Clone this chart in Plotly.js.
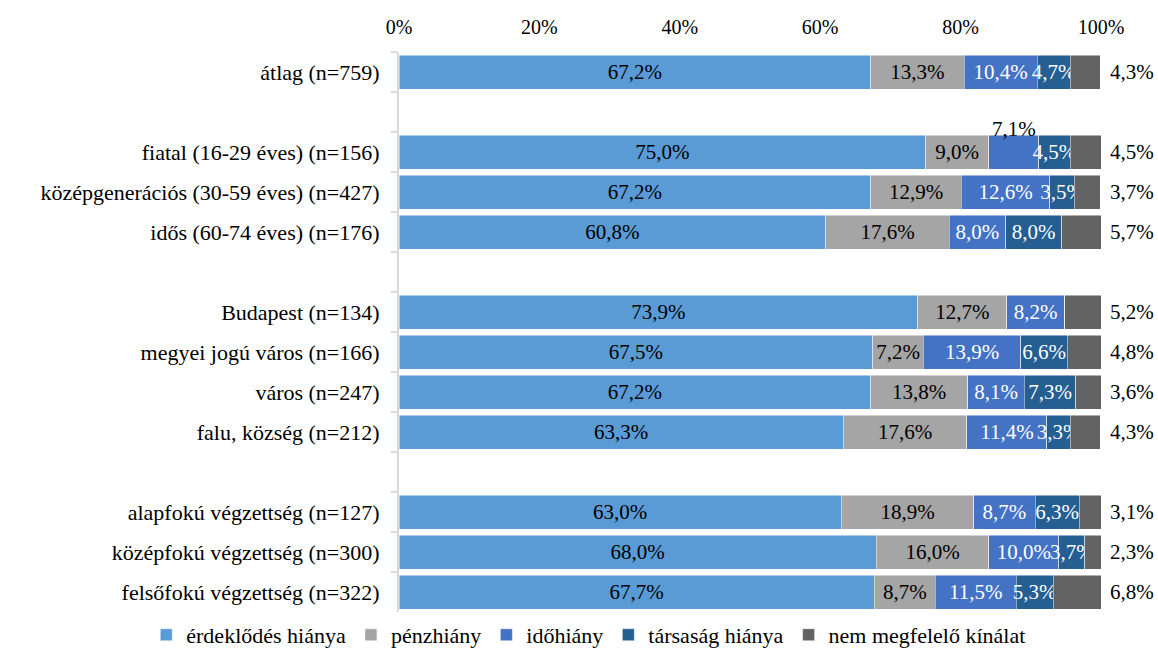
<!DOCTYPE html>
<html>
<head>
<meta charset="utf-8">
<script src="https://cdn.plot.ly/plotly-3.0.1.min.js"></script>
<style>html,body{margin:0;padding:0;background:#fff;}#chart{width:1158px;height:650px;}</style>
</head>
<body>
<div id="chart"></div>
<script>
const categories = ['átlag (n=759)', ' ', 'fiatal (16-29 éves) (n=156)', 'középgenerációs (30-59 éves) (n=427)', 'idős (60-74 éves) (n=176)', '  ', 'Budapest (n=134)', 'megyei jogú város (n=166)', 'város (n=247)', 'falu, község (n=212)', '   ', 'alapfokú végzettség (n=127)', 'középfokú végzettség (n=300)', 'felsőfokú végzettség (n=322)'];
const seriesNames = ['érdeklődés hiánya', 'pénzhiány', 'időhiány', 'társaság hiánya', 'nem megfelelő kínálat'];
const erdeklodesHianya = [67.2, null, 75.0, 67.2, 60.8, null, 73.9, 67.5, 67.2, 63.3, null, 63.0, 68.0, 67.7];
const penzhiany        = [13.3, null, 9.0, 12.9, 17.6, null, 12.7, 7.2, 13.8, 17.6, null, 18.9, 16.0, 8.7];
const idohiany         = [10.4, null, 7.1, 12.6, 8.0, null, 8.2, 13.9, 8.1, 11.4, null, 8.7, 10.0, 11.5];
const tarsasagHianya   = [4.7, null, 4.5, 3.5, 8.0, null, 0, 6.6, 7.3, 3.3, null, 6.3, 3.7, 5.3];
const nemMegfelelo     = [4.3, null, 4.5, 3.7, 5.7, null, 5.2, 4.8, 3.6, 4.3, null, 3.1, 2.3, 6.8];
const tickVals = [0, 20, 40, 60, 80, 100];
const tickText = ['0%', '20%', '40%', '60%', '80%', '100%'];

const colors = ['#5B9BD5', '#A5A5A5', '#4472C4', '#255E91', '#636363'];
const textColors = ['#000000', '#000000', '#ffffff', '#ffffff', '#000000'];
const FONT = 'Liberation Serif';
const FS = 21;
const fmt = v => (v === null || v === 0) ? '' : v.toFixed(1).replace('.', ',') + '%';

const seriesValues = [erdeklodesHianya, penzhiany, idohiany, tarsasagHianya, nemMegfelelo];
const traces = seriesValues.map((vals, i) => {
  const txt = vals.map(fmt);
  if (i === 2) txt[2] = ''; // fiatal időhiány label drawn above the bar
  return {
    type: 'bar', orientation: 'h', name: seriesNames[i],
    y: categories, x: vals,
    text: i === 4 ? undefined : txt,
    textposition: i === 4 ? 'none' : 'inside',
    insidetextanchor: 'middle', textangle: 0, constraintext: 'none',
    textfont: {family: FONT, size: FS, color: textColors[i]},
    marker: {color: colors[i], line: {color: 'rgba(255,255,255,0.8)', width: 0.6}},
    width: 0.85, hoverinfo: 'skip'
  };
});

const annotations = [];
categories.forEach((c, k) => {
  if (nemMegfelelo[k] !== null) {
    annotations.push({x: 100, y: c, xref: 'x', yref: 'y', text: fmt(nemMegfelelo[k]), showarrow: false,
      xanchor: 'left', xshift: 7, font: {family: FONT, size: FS, color: '#000'}});
  }
});
// fiatal: időhiány label above its segment
annotations.push({x: erdeklodesHianya[2] + penzhiany[2] + idohiany[2] / 2, y: categories[2], xref: 'x', yref: 'y',
  text: fmt(idohiany[2]), showarrow: false, yshift: 23, font: {family: FONT, size: FS, color: '#000'}});

const layout = {
  width: 1158, height: 650,
  margin: {l: 399, r: 57, t: 52, b: 38, autoexpand: false},
  paper_bgcolor: '#fff', plot_bgcolor: '#fff',
  barmode: 'stack', bargap: 0.15,
  font: {family: FONT, size: FS, color: '#000'},
  showlegend: true,
  legend: {orientation: 'h', x: -0.36, xanchor: 'left', y: -0.041, yanchor: 'middle',
    traceorder: 'normal', font: {family: FONT, size: 22, color: '#000'}},
  xaxis: {side: 'top', range: [0, 100], tickvals: tickVals, ticktext: tickText,
    showgrid: false, zeroline: false, showline: false, ticks: '', ticklabelstandoff: 13,
    tickfont: {family: FONT, size: 20, color: '#000'}, fixedrange: true},
  yaxis: {type: 'category', autorange: 'reversed', showgrid: false, zeroline: false,
    showline: true, linecolor: '#d9d9d9', linewidth: 2, ticks: 'outside', tickson: 'boundaries',
    ticklen: 6, tickcolor: '#d9d9d9', tickwidth: 2, ticklabelstandoff: 13,
    tickfont: {family: FONT, size: 22, color: '#000'}, fixedrange: true},
  annotations: annotations
};

Plotly.newPlot('chart', traces, layout, {staticPlot: true, displayModeBar: false});
</script>
</body>
</html>
